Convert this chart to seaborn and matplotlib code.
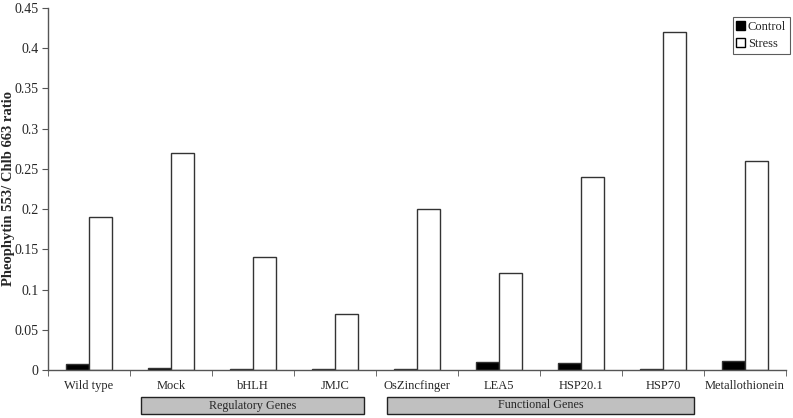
import matplotlib
matplotlib.use("Agg")
import matplotlib.pyplot as plt
import seaborn as sns
import pandas as pd
from matplotlib.patches import Rectangle, Patch
from matplotlib.ticker import FixedLocator

genes = ["Wild type", "Mock", "bHLH", "JMJC", "OsZincfinger", "LEA5",
         "HSP20.1", "HSP70", "Metallothionein"]
control = [0.008, 0.002, 0.001, 0.001, 0.001, 0.010, 0.009, 0.001, 0.011]
stress = [0.19, 0.27, 0.14, 0.07, 0.20, 0.12, 0.24, 0.42, 0.26]
yticks = [0, 0.05, 0.1, 0.15, 0.2, 0.25, 0.3, 0.35, 0.4, 0.45]
ytick_labels = ["0", "0.05", "0.1", "0.15", "0.2", "0.25", "0.3", "0.35", "0.4", "0.45"]
groups = [("Regulatory Genes", 1, 3), ("Functional Genes", 4, 7)]

df = pd.DataFrame({
    "gene": genes * 2,
    "value": control + stress,
    "treatment": ["Control"] * len(genes) + ["Stress"] * len(genes),
})

sns.set_style("white")
plt.rcParams["font.family"] = ["Liberation Serif", "DejaVu Serif"]

W, H = 793, 418
fig = plt.figure(figsize=(W / 100, H / 100), dpi=100)
ax = fig.add_axes([48 / W, (H - 370) / H, (786 - 48) / W, (370 - 8) / H])

sns.barplot(data=df, x="gene", y="value", hue="treatment",
            palette={"Control": "black", "Stress": "white"},
            width=0.56, edgecolor="#333333", linewidth=1.0, ax=ax,
            legend=False)

ax.set_ylim(0, 0.45)
ax.set_xlim(-0.5, len(genes) - 0.5)
ax.set_yticks(yticks)
ax.set_yticklabels(ytick_labels, fontsize=10)
ax.set_xticks(range(len(genes)))
ax.set_xticklabels(genes, fontsize=9)
ax.tick_params(axis="x", which="major", length=0, pad=7)
ax.xaxis.set_minor_locator(FixedLocator([i - 0.5 for i in range(len(genes) + 1)]))
ax.tick_params(axis="x", which="minor", length=4, direction="out", color="#555555", bottom=True)
ax.tick_params(axis="y", length=4, direction="out", color="#555555", left=True, pad=3)
ax.set_xlabel("")
ax.set_ylabel("Pheophytin 553/ Chlb 663 ratio", fontsize=10.5, fontweight="bold")
ax.yaxis.set_label_coords((15 - 48) / 738, 0.5)

for s in ["top", "right"]:
    ax.spines[s].set_visible(False)
for s in ["left", "bottom"]:
    ax.spines[s].set_color("#555555")
    ax.spines[s].set_linewidth(1.0)

handles = [Patch(facecolor="black", edgecolor="black", label="Control"),
           Patch(facecolor="white", edgecolor="black", label="Stress")]
leg = ax.legend(handles=handles, loc="upper right", bbox_to_anchor=(1.005, 0.975),
                fontsize=9, frameon=True, fancybox=False, edgecolor="#333333",
                handlelength=0.7, handleheight=0.7, handletextpad=0.2,
                borderpad=0.3, labelspacing=0.4, borderaxespad=0.0)
leg.get_frame().set_linewidth(0.8)

# group boxes below the axis
box_px = {"Regulatory Genes": (141, 364), "Functional Genes": (387, 694)}
for name, a, b in groups:
    x0, x1 = box_px[name]
    y0, y1 = 397, 414
    rect = Rectangle((x0 / W, (H - y1) / H), (x1 - x0) / W, (y1 - y0) / H,
                     transform=fig.transFigure, facecolor="#c0c0c0",
                     edgecolor="#222222", linewidth=1.0)
    fig.patches.append(rect)
    fig.text((x0 + x1) / 2 / W, (H - (y0 + y1) / 2) / H, name,
             ha="center", va="center", fontsize=8.7)

fig.savefig("out.png", dpi=100)
